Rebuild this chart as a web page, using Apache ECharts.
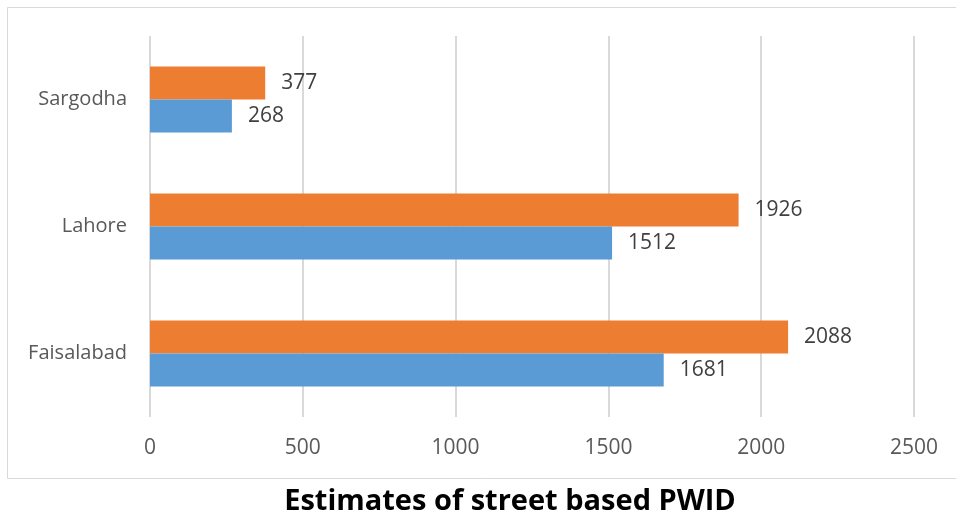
<!DOCTYPE html>
<html>
<head>
<meta charset="utf-8">
<script src="https://cdn.jsdelivr.net/npm/echarts@6/dist/echarts.min.js"></script>
<style>
html,body{margin:0;padding:0;background:#fff;}
#c{width:956px;height:513px;}
</style>
</head>
<body>
<div id="c"></div>
<script>
const categories = ['Faisalabad', 'Lahore', 'Sargodha'];
const blueValues = [1681, 1512, 268];
const orangeValues = [2088, 1926, 377];
const xTicks = [0, 500, 1000, 1500, 2000, 2500];
const titleText = 'Estimates of street based PWID';

const chart = echarts.init(document.getElementById('c'), null, {renderer: 'canvas'});
const font = '"Open Sans", sans-serif';
const labelCfg = {show: true, position: 'right', distance: 16, fontFamily: font, fontSize: 21, color: '#404040', formatter: p => String(p.value)};
chart.setOption({
  animation: false,
  backgroundColor: '#ffffff',
  title: {
    text: titleText,
    left: 505,
    top: 482,
    textAlign: 'center',
    textStyle: {fontFamily: font, fontWeight: 'bold', fontSize: 29, color: '#000000'}
  },
  graphic: [{
    type: 'rect',
    shape: {x: 7.5, y: 7.5, width: 960, height: 471},
    style: {fill: 'none', stroke: '#d9d9d9', lineWidth: 1},
    silent: true
  }],
  grid: {left: 150, right: 42, top: 36, bottom: 96, containLabel: false},
  xAxis: {
    type: 'value',
    min: xTicks[0],
    max: xTicks[xTicks.length - 1],
    interval: 500,
    axisLine: {show: false},
    axisTick: {show: false},
    splitLine: {show: true, lineStyle: {color: '#d9d9d9', width: 2}},
    axisLabel: {margin: 21, fontFamily: font, fontSize: 21, color: '#595959', formatter: v => String(v)}
  },
  yAxis: {
    type: 'category',
    data: categories,
    axisLine: {show: false},
    axisTick: {show: false},
    axisLabel: {margin: 23, fontFamily: font, fontSize: 20, color: '#595959'}
  },
  series: [
    {
      name: 'Orange',
      type: 'bar',
      data: orangeValues,
      barWidth: 33,
      barGap: '0%',
      itemStyle: {color: '#ED7D31'},
      label: labelCfg
    },
    {
      name: 'Blue',
      type: 'bar',
      data: blueValues,
      barWidth: 33,
      barGap: '0%',
      itemStyle: {color: '#5B9BD5'},
      label: labelCfg
    }
  ]
});
</script>
</body>
</html>
